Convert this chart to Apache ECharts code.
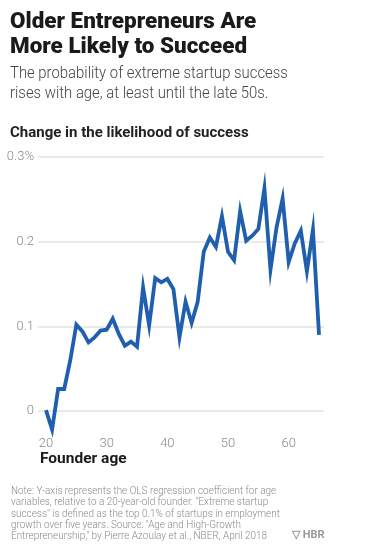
<!DOCTYPE html>
<html><head><meta charset="utf-8">
<script src="https://cdn.jsdelivr.net/npm/echarts@6/dist/echarts.min.js"></script>
<style>html,body{margin:0;padding:0;background:#fff}#c{width:368px;height:551px}</style>
</head><body><div id="c"></div>
<script>
const ages = [20,21,22,23,24,25,26,27,28,29,30,31,32,33,34,35,36,37,38,39,40,41,42,43,44,45,46,47,48,49,50,51,52,53,54,55,56,57,58,59,60,61,62,63,64,65];
const likelihood = [0.001,-0.022,0.026,0.026,0.060,0.102,0.094,0.081,0.087,0.095,0.096,0.109,0.091,0.077,0.082,0.076,0.146,0.101,0.157,0.152,0.156,0.144,0.087,0.129,0.104,0.129,0.188,0.205,0.194,0.230,0.188,0.178,0.236,0.201,0.207,0.215,0.263,0.167,0.217,0.251,0.176,0.198,0.213,0.165,0.214,0.090];
const xTicks = [20,30,40,50,60];
const yTickLabels = {0:'0',0.1:'0.1',0.2:'0.2',0.3:'0.3%'};

const chart = echarts.init(document.getElementById('c'), null, {renderer:'canvas'});
const F = 'Roboto, "Open Sans", sans-serif';
chart.setOption({
  animation:false,
  backgroundColor:'#fff',
  grid:{left:38,right:44,top:157,bottom:140,containLabel:false},
  xAxis:{type:'value',min:18.68,max:65.82,
    axisLine:{show:false},axisTick:{show:false},splitLine:{show:false},
    axisLabel:{customValues:xTicks,color:'#8a8a8a',fontSize:13,fontFamily:F,margin:26,fontWeight:300}},
  yAxis:{type:'value',min:0,max:0.3,interval:0.1,
    axisLine:{show:false},axisTick:{show:false},
    splitLine:{lineStyle:{color:'#e3e3e3',width:1.5}},
    axisLabel:{margin:4,color:'#8a8a8a',fontSize:13,fontFamily:F,fontWeight:300,
      formatter:v=>yTickLabels[Math.round(v*10)/10]}},
  series:[{type:'line',data:ages.map((a,i)=>[a,likelihood[i]]),showSymbol:false,clip:false,
    lineStyle:{color:'#1f5fae',width:3.8,join:'miter'}}],
  graphic:[
    {type:'text',x:10,y:10,scaleX:1.02,style:{text:'Older Entrepreneurs Are\nMore Likely to Succeed',font:'900 22px '+F,fill:'#1a1a1a',lineHeight:25}},
    {type:'text',x:10,y:64,scaleX:0.875,style:{text:'The probability of extreme startup success\nrises with age, at least until the late 50s.',font:'300 17px '+F,fill:'#444',lineHeight:20}},
    {type:'text',x:10,y:126,style:{text:'Change in the likelihood of success',font:'bold 15px '+F,fill:'#222'}},
    {type:'text',x:40,y:451,style:{text:'Founder age',font:'bold 15.5px '+F,fill:'#1a1a1a'}},
    {type:'text',x:11,y:486,scaleX:0.92,style:{text:'Note: Y-axis represents the OLS regression coefficient for age\nvariables, relative to a 20-year-old founder. "Extreme startup\nsuccess" is defined as the top 0.1% of startups in employment\ngrowth over five years. Source: "Age and High-Growth\nEntrepreneurship," by Pierre Azoulay et al., NBER, April 2018',font:'300 10.8px '+F,fill:'#8a8a8a',lineHeight:11.2}},
    {type:'text',x:292,y:530,style:{text:'▽ HBR',font:'bold 11px '+F,fill:'#9a9a9a'}}
  ]
});
</script></body></html>
